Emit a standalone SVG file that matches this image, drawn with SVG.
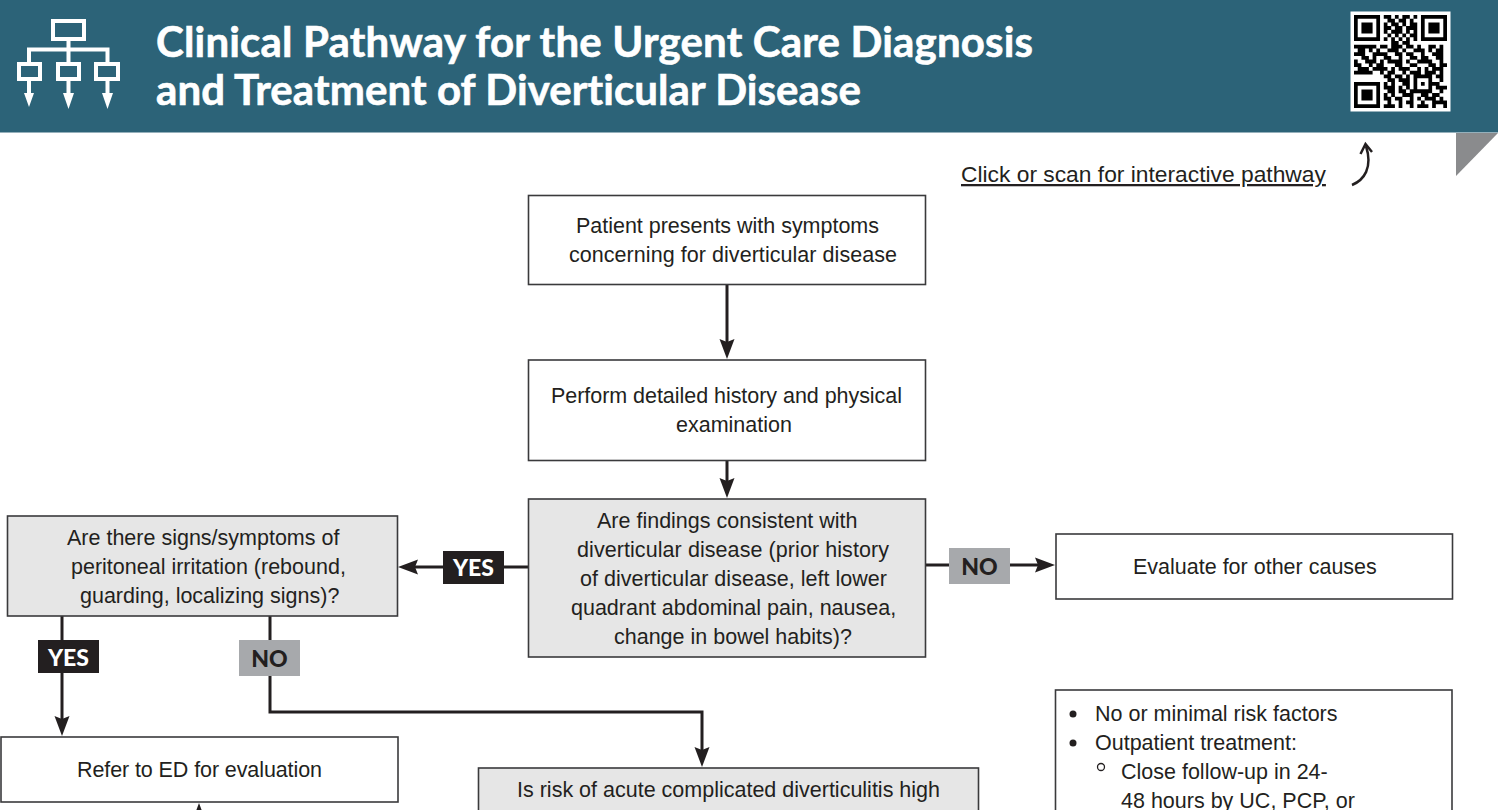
<svg xmlns="http://www.w3.org/2000/svg" width="1500" height="810" viewBox="0 0 1500 810">
<style>
text{font-family:"Liberation Sans",Arial,sans-serif;font-size:21.500px;fill:#231f20}
.box{stroke:#3a3a3c;stroke-width:1.6;fill:#fff}
.q{fill:#e6e6e6}
.con{fill:none;stroke:#231f20;stroke-width:3}
.tag{font-family:Lato,"Liberation Sans",sans-serif;font-weight:900;font-size:23px;text-anchor:middle}
.title{font-family:Lato,"Liberation Sans",sans-serif;font-weight:700;font-size:42px;fill:#fff;stroke:#fff;stroke-width:.6;font-variant-ligatures:none}
.ic{fill:none;stroke:#fff;stroke-width:4}
</style>
<defs>
<marker id="ah" markerUnits="userSpaceOnUse" markerWidth="22" markerHeight="18" refX="12" refY="8" orient="auto"><path d="M0 .5L20 8L0 15.500L3 8Z" fill="#231f20"/></marker>
</defs>
<g id="header">
<rect x="0" y="0" width="1498" height="132.500" fill="#2c6378"/>
<path d="M1456 133H1498L1456 176Z" fill="#8a8b8d"/>
<text class="title" x="156" y="57" textLength="877" lengthAdjust="spacing">Clinical Pathway for the Urgent Care Diagnosis</text>
<text class="title" x="156" y="105" textLength="705" lengthAdjust="spacing">and Treatment of Diverticular Disease</text>
</g>
<g id="icon">
<rect class="ic" x="53" y="21" width="31" height="18"/>
<path class="ic" d="M68.500 39V62M29 62V49.500H107.500V62M29 81V96M68.500 81V96M107.500 81V96"/>
<rect class="ic" x="19" y="64" width="21" height="15"/>
<rect class="ic" x="58" y="64" width="21" height="15"/>
<rect class="ic" x="96" y="64" width="22" height="15"/>
<path d="M24 93H34L29 107ZM63 93H74L68.500 109ZM102 93H113L107.500 109Z" fill="#fff"/>
</g>
<g id="qr">
<rect x="1350.500" y="11.500" width="100" height="100" fill="#fff"/>
<g transform="translate(1354 15) scale(3.72)">
<path fill="none" stroke="#000" d="M.5 .5h6v6h-6zM18.500 .5h6v6h-6zM.5 18.500h6v6h-6z"/>
<path d="M2 2h3v3h-3zM20 2h3v3h-3zM2 20h3v3h-3z"/>
<path fill="none" stroke="#000" stroke-width="1.02" d="M8 .5h2M11 .5h1M13 .5h2M16 .5h1M9 1.500h2M12 1.500h2M15 1.500h1M8 2.500h1M10 2.500h2M13 2.500h1M15 2.500h2M8 3.500h2M11 3.500h2M14 3.500h3M8 4.500h1M10 4.500h3M14 4.500h1M16 4.500h1M9 5.500h1M11 5.500h1M13 5.500h1M15 5.500h2M8 6.500h1M10 6.500h1M12 6.500h1M14 6.500h1M16 6.500h1M10 7.500h2M13 7.500h2M0 8.500h6M7 8.500h2M10 8.500h3M14 8.500h2M17 8.500h1M20 8.500h2M23 8.500h1M1 9.500h2M4 9.500h1M6 9.500h1M9 9.500h3M13 9.500h1M16 9.500h3M20 9.500h1M22 9.500h2M0 10.500h3M5 10.500h4M11 10.500h2M14 10.500h2M18 10.500h1M21 10.500h3M2 11.500h2M5 11.500h1M8 11.500h2M12 11.500h1M15 11.500h2M18 11.500h2M22 11.500h2M0 12.500h1M3 12.500h3M7 12.500h1M9 12.500h4M14 12.500h1M17 12.500h4M23 12.500h1M0 13.500h2M4 13.500h1M6 13.500h2M11 13.500h2M15 13.500h2M20 13.500h2M23 13.500h2M1 14.500h3M5 14.500h4M10 14.500h1M12 14.500h3M17 14.500h1M19 14.500h1M21 14.500h3M0 15.500h5M7 15.500h1M9 15.500h2M13 15.500h1M15 15.500h3M19 15.500h3M23 15.500h1M8 16.500h2M11 16.500h2M14 16.500h1M16 16.500h5M22 16.500h2M9 17.500h2M12 17.500h3M16 17.500h1M20 17.500h1M23 17.500h1M8 18.500h1M10 18.500h1M13 18.500h2M16 18.500h1M18 18.500h1M20 18.500h1M21 18.500h2M8 19.500h3M12 19.500h1M14 19.500h1M16 19.500h1M20 19.500h1M22 19.500h3M9 20.500h2M12 20.500h2M15 20.500h6M23 20.500h1M8 21.500h1M10 21.500h1M13 21.500h3M18 21.500h2M21 21.500h2M8 22.500h2M11 22.500h2M15 22.500h1M17 22.500h1M19 22.500h3M23 22.500h1M9 23.500h1M12 23.500h1M14 23.500h2M18 23.500h1M21 23.500h4M8 24.500h3M12 24.500h1M15 24.500h1M17 24.500h3M21 24.500h1M24 24.500h1"/>
</g>
</g>
<g id="scan-link">
<text x="961" y="182" text-decoration="underline" style="font-size:22.800px">Click or scan for interactive pathway</text>
<path d="M1352 185C1364 180 1373 168 1366 146" fill="none" stroke="#231f20" stroke-width="2.500"/>
<path d="M1360.500 154L1365.500 144L1372 152" fill="none" stroke="#231f20" stroke-width="2.500"/>
</g>
<g id="connectors">
<path class="con" marker-end="url(#ah)" d="M727 285V351"/>
<path class="con" marker-end="url(#ah)" d="M727 460V490"/>
<path class="con" marker-end="url(#ah)" d="M528 567H406"/>
<path class="con" marker-end="url(#ah)" d="M925 565H1047"/>
<path class="con" marker-end="url(#ah)" d="M62 616V728"/>
<path class="con" marker-end="url(#ah)" d="M270 616V712H702V759"/>
<path class="con" marker-end="url(#ah)" d="M199 830V811"/>
</g>
<g id="tag-yes-1"><rect x="443" y="551" width="61" height="33" fill="#231f20"/><text class="tag" x="473.500" y="576" style="fill:#fff">YES</text></g>
<g id="tag-no-1"><rect x="949" y="548" width="61" height="36" fill="#a7a9ac"/><text class="tag" x="979.500" y="575">NO</text></g>
<g id="tag-yes-2"><rect x="38" y="640" width="61" height="33" fill="#231f20"/><text class="tag" x="68.500" y="666" style="fill:#fff">YES</text></g>
<g id="tag-no-2"><rect x="239" y="640" width="61" height="36" fill="#a7a9ac"/><text class="tag" x="269.500" y="667">NO</text></g>
<g id="n-presents"><rect class="box" x="528.500" y="195.500" width="397" height="89"/>
<text x="576" y="233" textLength="303">Patient presents with symptoms</text><text x="569" y="262" textLength="328">concerning for diverticular disease</text></g>
<g id="n-history"><rect class="box" x="528.500" y="360" width="397" height="100.500"/>
<text x="551" y="403" textLength="351">Perform detailed history and physical</text><text x="676" y="432">examination</text></g>
<g id="n-findings"><rect class="box q" x="528.500" y="499" width="397" height="158"/>
<text x="597" y="528">Are findings consistent with</text><text x="577" y="557" textLength="312">diverticular disease (prior history</text><text x="580" y="586" textLength="307">of diverticular disease, left lower</text><text x="571" y="615">quadrant abdominal pain, nausea,</text><text x="614" y="644">change in bowel habits)?</text></g>
<g id="n-peritoneal"><rect class="box q" x="7.500" y="516" width="390" height="100"/>
<text x="67" y="545">Are there signs/symptoms of</text><text x="71" y="574">peritoneal irritation (rebound,</text><text x="80" y="603">guarding, localizing signs)?</text></g>
<g id="n-other"><rect class="box" x="1056" y="534" width="396.500" height="65"/>
<text x="1133" y="574">Evaluate for other causes</text></g>
<g id="n-ed"><rect class="box" x="1" y="737" width="397" height="65"/>
<text x="77" y="777" textLength="245">Refer to ED for evaluation</text></g>
<g id="n-risk"><rect class="box q" x="478.500" y="768" width="500" height="60"/>
<text x="517" y="797">Is risk of acute complicated diverticulitis high</text></g>
<g id="n-outpatient"><rect class="box" x="1055.500" y="690" width="396.500" height="140"/>
<circle cx="1073" cy="714" r="3.500" fill="#231f20"/><circle cx="1073" cy="743" r="3.500" fill="#231f20"/><circle cx="1101" cy="767" r="3.500" fill="none" stroke="#231f20" stroke-width="1.300"/>
<text x="1095" y="721">No or minimal risk factors</text><text x="1095" y="750">Outpatient treatment:</text><text x="1121" y="779">Close follow-up in 24-</text><text x="1121" y="808">48 hours by UC, PCP, or</text></g>
</svg>
